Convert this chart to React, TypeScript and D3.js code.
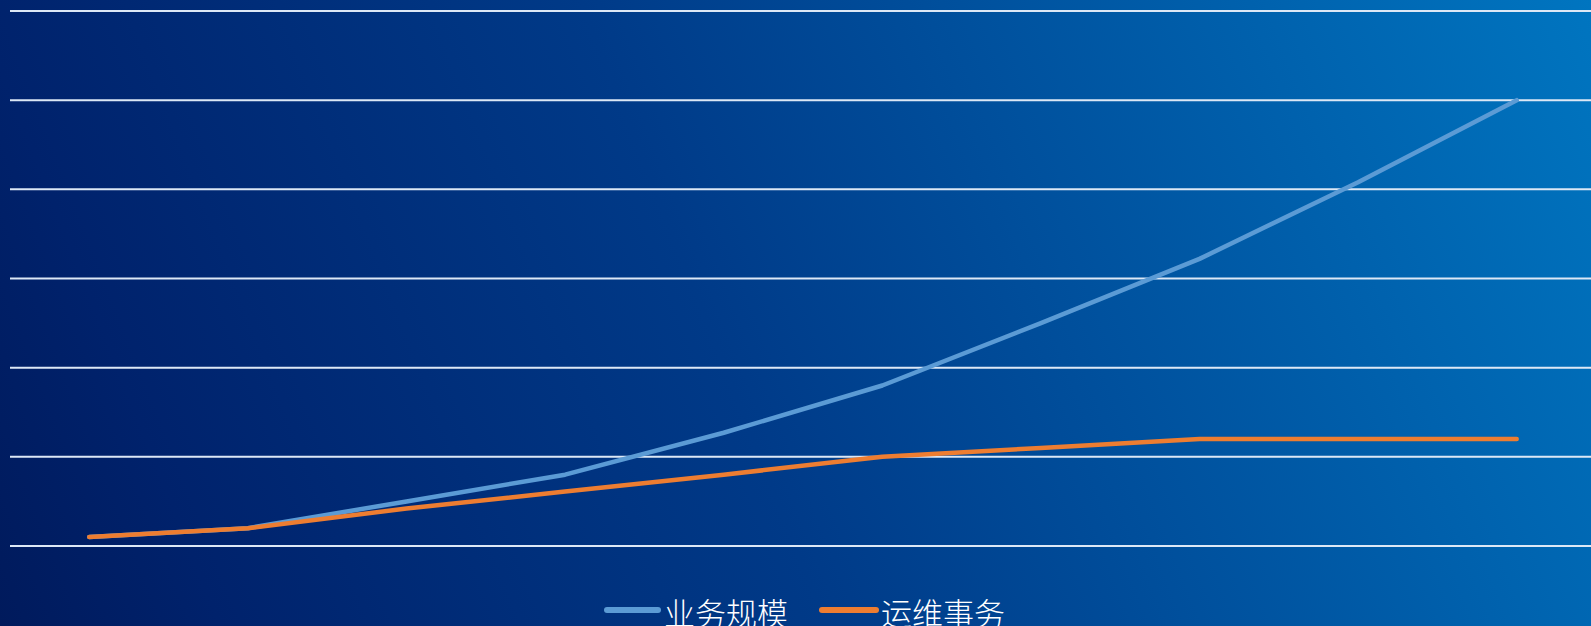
import React from "react";
import * as d3 from "d3";

const categories = ["1", "2", "3", "4", "5", "6", "7", "8", "9", "10"];
const businessScale = [0.1, 0.2, 0.5, 0.8, 1.27, 1.8, 2.5, 3.22, 4.08, 5.0];
const opsAffairs = [0.1, 0.2, 0.42, 0.61, 0.8, 1.0, 1.1, 1.2, 1.2, 1.2];
const yTicks = [0, 1, 2, 3, 4, 5, 6];
const seriesNames = ["业务规模", "运维事务"];
const seriesColors = ["#5b9bd5", "#ed7d31"];

const W = 1591;
const H = 626;

export default function App() {
  const x = d3.scaleBand<string>().domain(categories).range([10, 1596]);
  const y = d3.scaleLinear().domain([0, 6]).range([546, 11]);
  const line = d3
    .line<number>()
    .x((_, i) => (x(categories[i]) as number) + x.bandwidth() / 2)
    .y((d) => y(d));
  const series = [businessScale, opsAffairs];
  const legend = [
    { lx1: 607, lx2: 658, tx: 664 },
    { lx1: 822, lx2: 876, tx: 881 },
  ];
  return (
    <svg
      width={W}
      height={H}
      style={{ position: "absolute", left: 0, top: 0 }}
    >
      <defs>
        <linearGradient id="bg" gradientUnits="userSpaceOnUse" x1={0} y1={H} x2={W} y2={0}>
          <stop offset="0" stopColor="#001a5c" />
          <stop offset="0.12" stopColor="#00226c" />
          <stop offset="0.45" stopColor="#003a88" />
          <stop offset="1" stopColor="#0075c0" />
        </linearGradient>
      </defs>
      <rect width={W} height={H} fill="url(#bg)" />
      {yTicks.map((t) => (
        <line key={t} x1={10} x2={W} y1={y(t)} y2={y(t)} stroke="#dce8f6" strokeWidth={2} />
      ))}
      {series.map((s, i) => (
        <path
          key={i}
          d={line(s) || ""}
          fill="none"
          stroke={seriesColors[i]}
          strokeWidth={4.5}
          strokeLinecap="round"
          strokeLinejoin="round"
        />
      ))}
      {legend.map((l, i) => (
        <g key={i}>
          <line x1={l.lx1} x2={l.lx2} y1={610} y2={610} stroke={seriesColors[i]} strokeWidth={6} strokeLinecap="round" />
          <text
            x={l.tx}
            y={611}
            dominantBaseline="central"
            fill="#ffffff"
            fontSize={31}
            fontWeight={300}
            fontFamily="'Noto Sans CJK SC', sans-serif"
          >
            {seriesNames[i]}
          </text>
        </g>
      ))}
    </svg>
  );
}
